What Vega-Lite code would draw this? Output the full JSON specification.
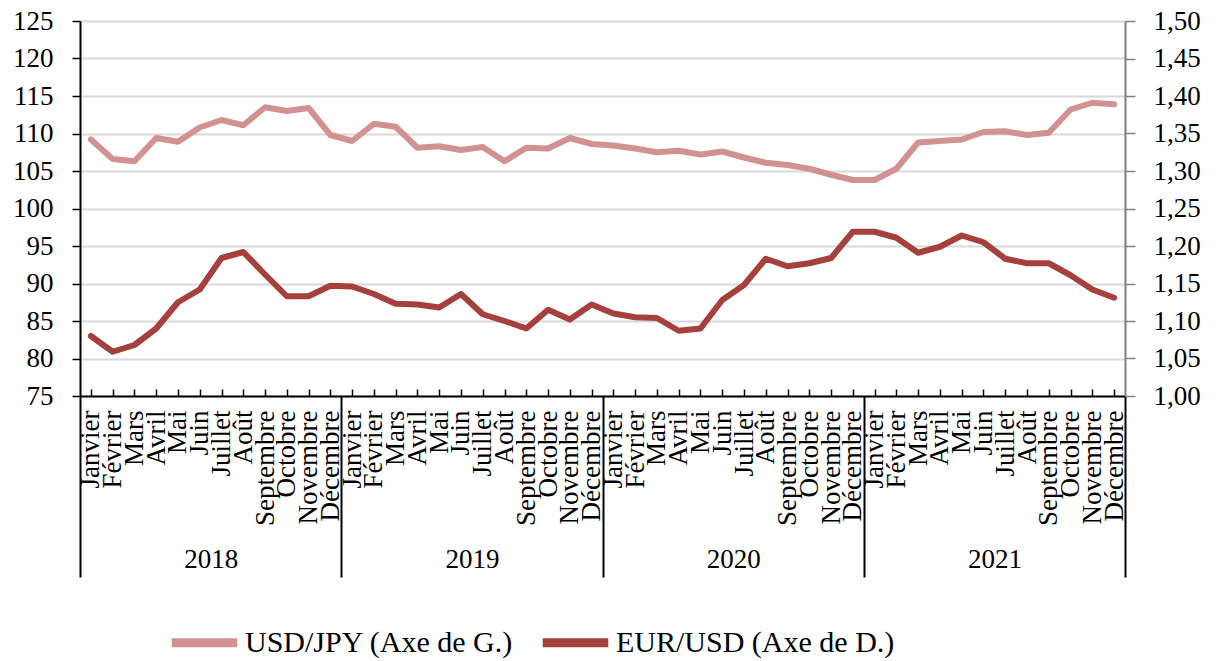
{
  "$schema": "https://vega.github.io/schema/vega-lite/v6.json",
  "width": 1045,
  "height": 375,
  "autosize": {"type": "none"},
  "padding": {"left": 80, "top": 21, "right": 94, "bottom": 265},
  "background": "white",
  "config": {
    "font": "Liberation Serif",
    "view": {"stroke": null},
    "axis": {"labelFont": "Liberation Serif", "labelColor": "#000"},
    "legend": {"labelFont": "Liberation Serif", "labelColor": "#000"}
  },
  "data": {
    "values": [
      {"date": "2018-01", "annee": "2018", "usdjpy": 109.2, "eurusd": 1.080},
      {"date": "2018-02", "annee": "2018", "usdjpy": 106.6, "eurusd": 1.059},
      {"date": "2018-03", "annee": "2018", "usdjpy": 106.3, "eurusd": 1.068},
      {"date": "2018-04", "annee": "2018", "usdjpy": 109.4, "eurusd": 1.090},
      {"date": "2018-05", "annee": "2018", "usdjpy": 108.9, "eurusd": 1.125},
      {"date": "2018-06", "annee": "2018", "usdjpy": 110.8, "eurusd": 1.142},
      {"date": "2018-07", "annee": "2018", "usdjpy": 111.8, "eurusd": 1.184},
      {"date": "2018-08", "annee": "2018", "usdjpy": 111.1, "eurusd": 1.192},
      {"date": "2018-09", "annee": "2018", "usdjpy": 113.5, "eurusd": 1.162},
      {"date": "2018-10", "annee": "2018", "usdjpy": 113.0, "eurusd": 1.133},
      {"date": "2018-11", "annee": "2018", "usdjpy": 113.4, "eurusd": 1.133},
      {"date": "2018-12", "annee": "2018", "usdjpy": 109.8, "eurusd": 1.147},
      {"date": "2019-01", "annee": "2019", "usdjpy": 109.0, "eurusd": 1.146},
      {"date": "2019-02", "annee": "2019", "usdjpy": 111.3, "eurusd": 1.136},
      {"date": "2019-03", "annee": "2019", "usdjpy": 110.9, "eurusd": 1.123},
      {"date": "2019-04", "annee": "2019", "usdjpy": 108.1, "eurusd": 1.122},
      {"date": "2019-05", "annee": "2019", "usdjpy": 108.3, "eurusd": 1.118},
      {"date": "2019-06", "annee": "2019", "usdjpy": 107.8, "eurusd": 1.136},
      {"date": "2019-07", "annee": "2019", "usdjpy": 108.2, "eurusd": 1.109},
      {"date": "2019-08", "annee": "2019", "usdjpy": 106.3, "eurusd": 1.100},
      {"date": "2019-09", "annee": "2019", "usdjpy": 108.1, "eurusd": 1.090},
      {"date": "2019-10", "annee": "2019", "usdjpy": 108.0, "eurusd": 1.115},
      {"date": "2019-11", "annee": "2019", "usdjpy": 109.4, "eurusd": 1.102},
      {"date": "2019-12", "annee": "2019", "usdjpy": 108.6, "eurusd": 1.122},
      {"date": "2020-01", "annee": "2020", "usdjpy": 108.4, "eurusd": 1.110},
      {"date": "2020-02", "annee": "2020", "usdjpy": 108.0, "eurusd": 1.105},
      {"date": "2020-03", "annee": "2020", "usdjpy": 107.5, "eurusd": 1.104},
      {"date": "2020-04", "annee": "2020", "usdjpy": 107.7, "eurusd": 1.087},
      {"date": "2020-05", "annee": "2020", "usdjpy": 107.2, "eurusd": 1.090},
      {"date": "2020-06", "annee": "2020", "usdjpy": 107.6, "eurusd": 1.128},
      {"date": "2020-07", "annee": "2020", "usdjpy": 106.8, "eurusd": 1.148},
      {"date": "2020-08", "annee": "2020", "usdjpy": 106.1, "eurusd": 1.183},
      {"date": "2020-09", "annee": "2020", "usdjpy": 105.8, "eurusd": 1.173},
      {"date": "2020-10", "annee": "2020", "usdjpy": 105.3, "eurusd": 1.177},
      {"date": "2020-11", "annee": "2020", "usdjpy": 104.5, "eurusd": 1.184},
      {"date": "2020-12", "annee": "2020", "usdjpy": 103.8, "eurusd": 1.219},
      {"date": "2021-01", "annee": "2021", "usdjpy": 103.8, "eurusd": 1.219},
      {"date": "2021-02", "annee": "2021", "usdjpy": 105.3, "eurusd": 1.211},
      {"date": "2021-03", "annee": "2021", "usdjpy": 108.8, "eurusd": 1.191},
      {"date": "2021-04", "annee": "2021", "usdjpy": 109.0, "eurusd": 1.199},
      {"date": "2021-05", "annee": "2021", "usdjpy": 109.2, "eurusd": 1.214},
      {"date": "2021-06", "annee": "2021", "usdjpy": 110.2, "eurusd": 1.205},
      {"date": "2021-07", "annee": "2021", "usdjpy": 110.3, "eurusd": 1.183},
      {"date": "2021-08", "annee": "2021", "usdjpy": 109.8, "eurusd": 1.177},
      {"date": "2021-09", "annee": "2021", "usdjpy": 110.1, "eurusd": 1.177},
      {"date": "2021-10", "annee": "2021", "usdjpy": 113.2, "eurusd": 1.161},
      {"date": "2021-11", "annee": "2021", "usdjpy": 114.1, "eurusd": 1.142},
      {"date": "2021-12", "annee": "2021", "usdjpy": 113.9, "eurusd": 1.131}
    ]
  },
  "layer": [
    {
      "layer": [
        {
          "mark": {"type": "line", "strokeWidth": 6, "strokeJoin": "round", "strokeCap": "round"},
          "encoding": {
            "x": {
              "field": "date",
              "type": "ordinal",
              "scale": {"type": "point", "padding": 0.5},
              "axis": {
                "title": null,
                "labelAngle": -90,
                "labelFontSize": 27,
                "labelPadding": 21,
                "tickSize": -7,
                "tickWidth": 1.5,
                "tickColor": "#000",
                "domainColor": "#000",
                "domainWidth": 2,
                "labelOverlap": false,
                "labelBound": false,
                "labelLimit": 400,
                "grid": false,
                "labelExpr": "['Janvier','Février','Mars','Avril','Mai','Juin','Juillet','Août','Septembre','Octobre','Novembre','Décembre'][toNumber(slice(datum.value,5,7))-1]"
              }
            },
            "y": {
              "field": "usdjpy",
              "type": "quantitative",
              "scale": {"domain": [75, 125], "zero": false, "nice": false},
              "axis": {
                "title": null,
                "values": [75, 80, 85, 90, 95, 100, 105, 110, 115, 120, 125],
                "labelFontSize": 27,
                "labelPadding": 19,
                "tickSize": 8,
                "tickWidth": 1.5,
                "tickColor": "#000",
                "domainColor": "#000",
                "domainWidth": 2,
                "grid": true,
                "gridColor": "#d9d9d9",
                "gridWidth": 2
              }
            },
            "color": {
              "datum": "USD/JPY (Axe de G.)",
              "type": "nominal",
              "scale": {
                "domain": ["USD/JPY (Axe de G.)", "EUR/USD (Axe de D.)"],
                "range": ["#d39292", "#a5403d"]
              },
              "legend": {
                "orient": "none",
                "legendX": 87,
                "legendY": 584,
                "direction": "horizontal",
                "title": null,
                "symbolType": "stroke",
                "symbolStrokeWidth": 9,
                "symbolSize": 4300,
                "labelFontSize": 30,
                "labelLimit": 600,
                "columnPadding": 10,
                "labelOffset": 3
              }
            }
          }
        },
        {
          "mark": {"type": "line", "strokeWidth": 6, "strokeJoin": "round", "strokeCap": "round"},
          "encoding": {
            "x": {"field": "date", "type": "ordinal"},
            "y": {
              "field": "eurusd",
              "type": "quantitative",
              "scale": {"domain": [1.0, 1.5], "zero": false, "nice": false},
              "axis": {
                "orient": "right",
                "title": null,
                "values": [1.0, 1.05, 1.1, 1.15, 1.2, 1.25, 1.3, 1.35, 1.4, 1.45, 1.5],
                "labelExpr": "replace(format(datum.value,'.2f'),'.',',')",
                "labelFontSize": 27,
                "labelPadding": 18,
                "tickSize": 10,
                "tickWidth": 1.5,
                "tickColor": "#808080",
                "domainColor": "#808080",
                "domainWidth": 2,
                "grid": false
              }
            },
            "color": {"datum": "EUR/USD (Axe de D.)", "type": "nominal"}
          }
        }
      ],
      "resolve": {"scale": {"y": "independent"}}
    },
    {
      "mark": {"type": "point", "opacity": 0},
      "encoding": {
        "x": {
          "field": "annee",
          "type": "ordinal",
          "scale": {"type": "band", "paddingInner": 0, "paddingOuter": 0},
          "axis": {
            "orient": "bottom",
            "title": null,
            "domain": false,
            "ticks": true,
            "tickBand": "extent",
            "tickSize": 181,
            "tickWidth": 2,
            "tickColor": "#000",
            "labelAngle": 0,
            "labelFontSize": 27,
            "labelPadding": -31,
            "labelBaseline": "top",
            "grid": false
          }
        }
      }
    }
  ],
  "resolve": {"scale": {"x": "independent", "y": "independent"}}
}
